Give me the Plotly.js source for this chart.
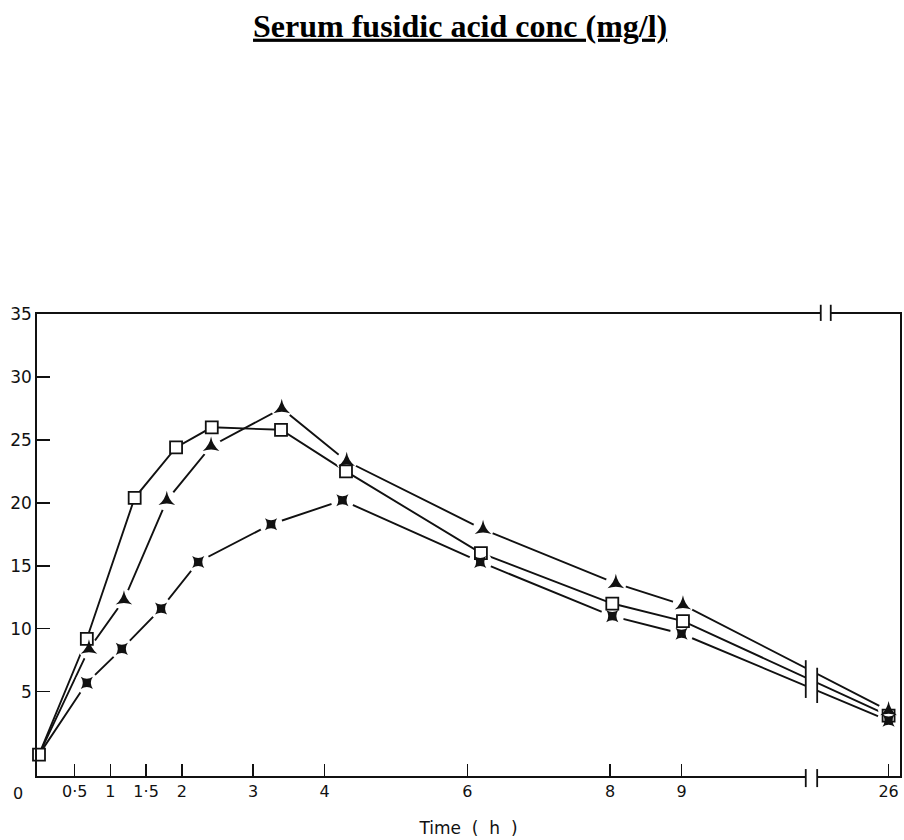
<!DOCTYPE html>
<html>
<head>
<meta charset="utf-8">
<script src="https://cdn.plot.ly/plotly-3.0.1.min.js"></script>
<style>html,body{margin:0;padding:0;background:#fff;}</style>
</head>
<body>
<div id="chart" style="width:904px;height:840px;"></div>
<script>
// ---- data ----
const timesA = [0, 0.67, 1.34, 1.92, 2.42, 3.39, 4.30, 6.19, 8.03, 9.02, 26];
const concA  = [0, 9.2, 20.4, 24.4, 26.0, 25.8, 22.5, 16.0, 12.0, 10.6, 3.1];
const timesB = [0, 0.70, 1.19, 1.79, 2.41, 3.40, 4.31, 6.22, 8.08, 9.02, 26];
const concB  = [0, 8.4, 12.3, 20.2, 24.5, 27.5, 23.3, 17.9, 13.6, 11.9, 3.5];
const timesC = [0, 0.67, 1.16, 1.71, 2.23, 3.25, 4.25, 6.18, 8.03, 9.00, 26];
const concC  = [0, 5.7, 8.4, 11.6, 15.3, 18.3, 20.2, 15.3, 11.0, 9.6, 2.7];

const xTickTimes  = [0.5, 1, 1.5, 2, 3, 4, 6, 8, 9, 26];
const xTickLabels = ['0·5', '1', '1·5', '2', '3', '4', '6', '8', '9', '26'];
const yTickVals   = [5, 10, 15, 20, 25, 30, 35];
const yTickLabels = ['5', '10', '15', '20', '25', '30', '35'];

// ---- broken time axis: times after the break are drawn compressed ----
const BREAK_AT = 10, POS_26 = 11.9;
function xPos(t) { return t <= BREAK_AT ? t : POS_26 + (t - 26) * 0.05; }

const INK = '#111';
const FONT = {family: 'DejaVu Sans, sans-serif', size: 16, color: INK};
const X_RANGE = [-0.028, 12.06], Y_RANGE = [-1.7, 35];

function lineTrace(ts, ys) {
  return {x: ts.map(xPos), y: ys, mode: 'lines', type: 'scatter',
          line: {color: INK, width: 1.9}, hoverinfo: 'skip', showlegend: false};
}
// white discs under the markers leave the small gaps seen around the symbols
function maskTrace(ts, ys, size) {
  return {x: ts.slice(1).map(xPos), y: ys.slice(1), mode: 'markers', type: 'scatter',
          cliponaxis: false,
          marker: {symbol: 'circle', color: '#ffffff', size: size, line: {width: 0}},
          hoverinfo: 'skip', showlegend: false};
}

const traces = [
  lineTrace(timesA, concA),
  lineTrace(timesB, concB),
  lineTrace(timesC, concC),
  maskTrace(timesB, concB, 21),
  maskTrace(timesC, concC, 23),
  {x: timesA.map(xPos), y: concA, mode: 'markers', type: 'scatter', cliponaxis: false,
   marker: {symbol: 'square', size: 12, color: '#fff', line: {color: INK, width: 1.8}}, showlegend: false},
  {x: timesC.slice(1).map(xPos), y: concC.slice(1), mode: 'markers', type: 'scatter', cliponaxis: false,
   marker: {symbol: 'star-square', size: 11, color: INK, line: {width: 0}}, showlegend: false},
  {x: timesB.slice(1).map(xPos), y: concB.slice(1), mode: 'markers', type: 'scatter', cliponaxis: false,
   marker: {symbol: 'star-triangle-up', size: 12, color: INK, line: {width: 0}}, showlegend: false}
];

// break marks (decoration)
const bx1 = 10.74, bx2 = 10.90;
const shapes = [
  // on the curves
  {type: 'rect', xref: 'x', yref: 'y', x0: bx1, x1: bx2, y0: 3.9, y1: 7.9, fillcolor: '#fff', line: {width: 0}, layer: 'above'},
  {type: 'line', xref: 'x', yref: 'y', x0: bx1, x1: bx1, y0: 4.5, y1: 7.5, line: {color: INK, width: 1.8}, layer: 'above'},
  {type: 'line', xref: 'x', yref: 'y', x0: bx2, x1: bx2, y0: 4.1, y1: 6.9, line: {color: INK, width: 1.8}, layer: 'above'},
  // on the time axis
  {type: 'rect', xref: 'x', yref: 'paper', x0: bx1, x1: bx2, y0: -0.01, y1: 0.01, fillcolor: '#fff', line: {width: 0}, layer: 'above'},
  {type: 'line', xref: 'x', yref: 'paper', x0: bx1, x1: bx1, y0: -0.024, y1: 0.015, line: {color: INK, width: 1.8}, layer: 'above'},
  {type: 'line', xref: 'x', yref: 'paper', x0: bx2, x1: bx2, y0: -0.024, y1: 0.015, line: {color: INK, width: 1.8}, layer: 'above'},
  // on the top frame
  {type: 'rect', xref: 'x', yref: 'paper', x0: 10.95, x1: 11.09, y0: 0.99, y1: 1.01, fillcolor: '#fff', line: {width: 0}, layer: 'above'},
  {type: 'line', xref: 'x', yref: 'paper', x0: 10.95, x1: 10.95, y0: 0.985, y1: 1.02, line: {color: INK, width: 1.8}, layer: 'above'},
  {type: 'line', xref: 'x', yref: 'paper', x0: 11.09, x1: 11.09, y0: 0.985, y1: 1.02, line: {color: INK, width: 1.8}, layer: 'above'}
];

const layout = {
  width: 904, height: 840,
  margin: {l: 37, r: 4, t: 314, b: 64},
  paper_bgcolor: '#fff', plot_bgcolor: '#fff',
  showlegend: false,
  title: {
    text: '<b><u>Serum fusidic acid conc (mg/l)</u></b>',
    font: {family: 'Liberation Serif, Times New Roman, serif', size: 32, color: '#000'},
    x: 0.509, xanchor: 'center', xref: 'container',
    y: 0.983, yanchor: 'top', yref: 'container'
  },
  xaxis: {
    range: X_RANGE,
    tickvals: xTickTimes.map(xPos), ticktext: xTickLabels,
    ticks: 'inside', ticklen: 12, tickwidth: 1.5, tickcolor: INK,
    showline: true, linecolor: INK, linewidth: 2, mirror: true,
    showgrid: false, zeroline: false, tickfont: FONT,
    title: {text: 'Time  (  h  )', font: {family: FONT.family, size: 17, color: INK}, standoff: 22}
  },
  yaxis: {
    range: Y_RANGE,
    tickvals: yTickVals, ticktext: yTickLabels,
    ticks: 'inside', ticklen: 13, tickwidth: 1.5, tickcolor: INK,
    showline: true, linecolor: INK, linewidth: 1.8, mirror: true,
    showgrid: false, zeroline: false, tickfont: {family: FONT.family, size: 17, color: INK}
  },
  shapes: shapes,
  annotations: [
    {text: '0', xref: 'paper', yref: 'paper', x: -0.022, y: -0.037, showarrow: false,
     xanchor: 'center', yanchor: 'middle', font: FONT}
  ]
};

Plotly.newPlot('chart', traces, layout, {displayModeBar: false, staticPlot: true});
</script>
</body>
</html>
